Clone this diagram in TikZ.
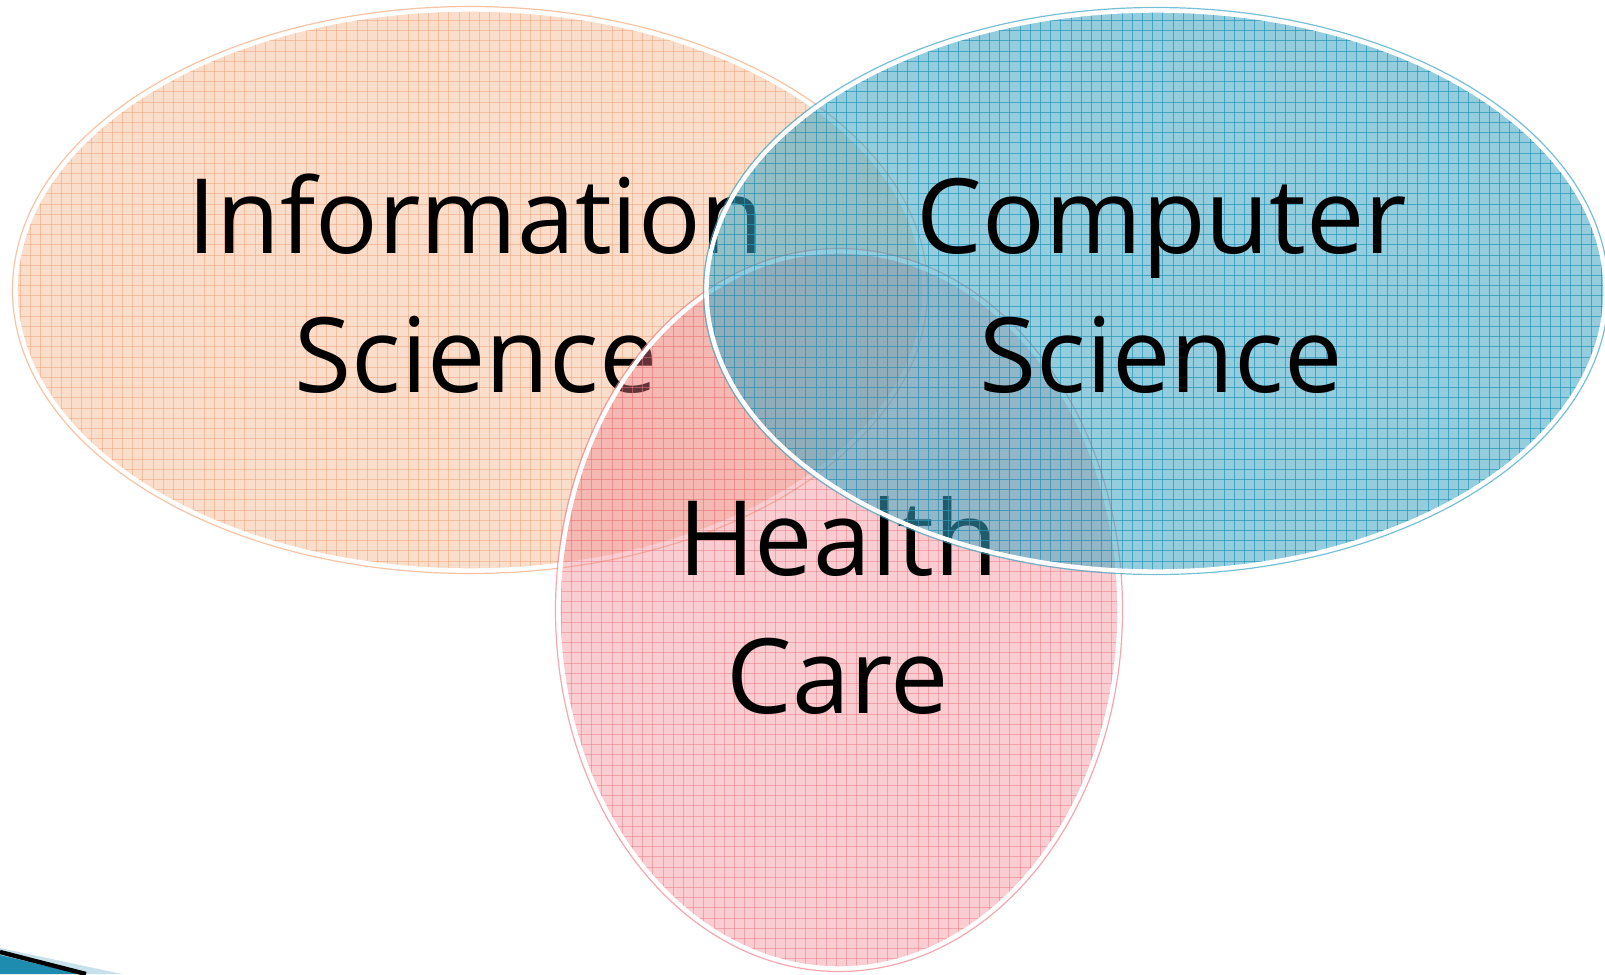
\documentclass[tikz,border=0pt]{standalone}
\usepackage{fontspec}
\setmainfont{Open Sans}
\definecolor{peach}{RGB}{245,170,125}
\definecolor{peachgrid}{RGB}{240,160,115}
\definecolor{rose}{RGB}{240,130,140}
\definecolor{rosegrid}{RGB}{235,120,130}
\definecolor{teal}{RGB}{60,165,195}
\definecolor{tealgrid}{RGB}{40,150,185}
\definecolor{bulletblue}{RGB}{30,140,175}
\begin{document}
\begin{tikzpicture}[x=0.5pt,y=-0.5pt,
  word/.style={font=\fontsize{52}{60}\selectfont, anchor=base, inner sep=0pt, text=black}]
\useasboundingbox (0,0) rectangle (1605,974);

% one translucent, grid-patterned ellipse with a white rim
% #1 centre, #2 x radius, #3 y radius, #4 fill, #5 grid colour, #6 fill opacity, #7 grid opacity
\newcommand\gridblob[7]{%
  \begin{scope}
    \clip #1 ellipse [x radius=#2, y radius=#3];
    \fill[#4, opacity=#6] (0,0) rectangle (1605,974);
    \foreach \g in {0,10.2,...,1605}
      \draw[#5, opacity=#7, line width=0.45pt] (\g,0) -- (\g,974);
    \foreach \g in {0,10.2,...,974}
      \draw[#5, opacity=#7, line width=0.45pt] (0,\g) -- (1605,\g);
  \end{scope}
  \draw[white, line width=2.2pt] #1 ellipse [x radius=#2+1.5, y radius=#3+1.5];
  \draw[#4, opacity=0.7, line width=0.6pt] #1 ellipse [x radius=#2+4.5, y radius=#3+4.5];
}

% corner bullet
\fill[bulletblue!25] (0,948) -- (122,974) -- (0,974) -- cycle;
\fill[bulletblue] (0,955) -- (80,974) -- (0,974) -- cycle;
\draw[black, line width=2.2pt] (0,952) -- (86,974);

% Information Science
\gridblob{(470,290)}{453}{279}{peach}{peachgrid}{0.4}{0.5}
\node[word] (info) at (476,253) {Information};
\node[word] (infosci) at (476,392) {Science};

% Health Care
\gridblob{(839,610)}{279}{357}{rose}{rosegrid}{0.4}{0.5}
\node[word] (health) at (838,575) {Health};
\node[word] (care) at (838,713) {Care};

% Computer Science
\gridblob{(1156,291)}{448}{279}{teal}{tealgrid}{0.55}{0.7}
\node[word] (comp) at (1162,253) {Computer};
\node[word] (compsci) at (1161,392) {Science};
\end{tikzpicture}
\end{document}
